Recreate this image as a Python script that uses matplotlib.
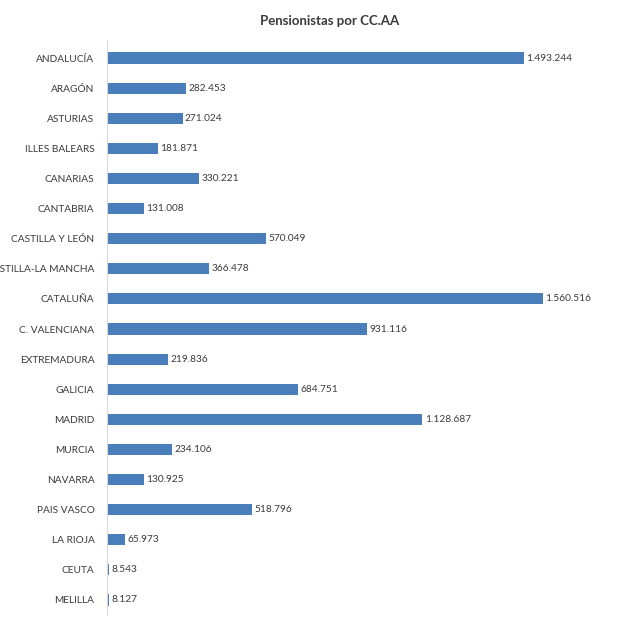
import matplotlib
matplotlib.use("Agg")
import matplotlib.pyplot as plt

regions = ["ANDALUCÍA", "ARAGÓN", "ASTURIAS", "ILLES BALEARS", "CANARIAS", "CANTABRIA",
           "CASTILLA Y LEÓN", "CASTILLA-LA MANCHA", "CATALUÑA", "C. VALENCIANA",
           "EXTREMADURA", "GALICIA", "MADRID", "MURCIA", "NAVARRA", "PAIS VASCO",
           "LA RIOJA", "CEUTA", "MELILLA"]
pensionistas = [1493244, 282453, 271024, 181871, 330221, 131008, 570049, 366478,
                1560516, 931116, 219836, 684751, 1128687, 234106, 130925, 518796,
                65973, 8543, 8127]

plt.rcParams['font.family'] = ['Lato', 'DejaVu Sans']
W = H = 621
fig = plt.figure(figsize=(W/100, H/100), dpi=100)
ax = fig.add_axes([107/W, 1-615/H, 503/W, 575/H])

bar_color = "#4a7ebb"
text_color = "#3a3a3a"
ypos = list(range(len(regions)))
ax.barh(ypos, pensionistas, height=0.37, color=bar_color)
ax.set_xlim(0, 1800000)
ax.set_ylim(18.5, -0.6)

def fmt(v):
    return f"{v:,}".replace(",", ".")

for y, v in zip(ypos, pensionistas):
    ax.text(v + 8000, y, fmt(v), va="center", ha="left", fontsize=7.3, color=text_color)

ax.set_yticks(ypos)
ax.set_yticklabels(regions, fontsize=7.3, color=text_color)
ax.tick_params(axis="y", length=0, pad=9)
ax.set_xticks([])
for s in ["top", "right", "bottom"]:
    ax.spines[s].set_visible(False)
ax.spines["left"].set_color("#d9d9d9")
ax.spines["left"].set_linewidth(0.8)

fig.text(330/W, 1-21/H, "Pensionistas por CC.AA", ha="center", va="center",
         fontsize=9.5, fontweight="bold", color=text_color)

fig.savefig("out.png", dpi=100)
